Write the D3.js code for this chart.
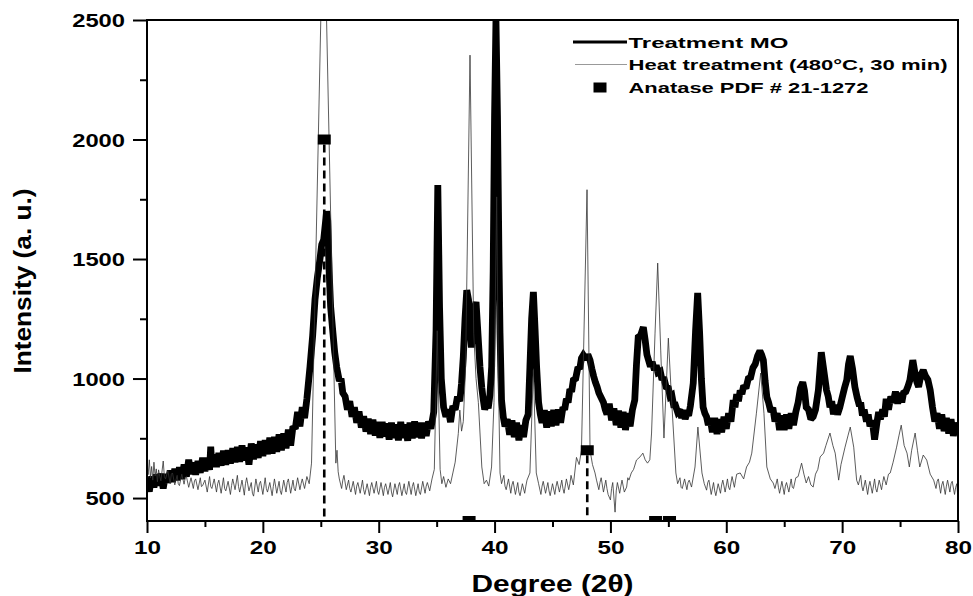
<!DOCTYPE html>
<html><head><meta charset="utf-8">
<script src="https://cdn.jsdelivr.net/npm/d3@7"></script>
<style>body{margin:0;background:#fff}svg{display:block}</style>
</head><body>
<svg id="c" width="973" height="596"></svg>
<script>
// ---- data ----
const xTicks = [10,20,30,40,50,60,70,80];
const xMinor = [15,25,35,45,55,65,75];
const yTicks = [500,1000,1500,2000,2500];
const yMinor = [750,1250,1750,2250];
const seriesNames = ["Treatment MO","Heat treatment (480°C, 30 min)","Anatase PDF # 21-1272"];

// Treatment MO  [2θ, intensity]
const treatmentMO = [
[10.0,560],[10.2,528],[10.4,590],[10.6,545],[10.8,598],[11.0,552],[11.2,602],[11.4,540],[11.6,600],[11.8,565],[12.0,615],[12.2,568],[12.4,622],[12.6,575],[12.8,628],[13.0,580],[13.2,640],[13.4,590],[13.6,660],[13.8,600],[14.0,648],[14.2,598],[14.4,655],[14.6,606],[14.8,668],[15.0,612],[15.2,668],[15.4,618],[15.5,715],[15.6,630],[15.8,682],[16.0,630],[16.2,688],[16.4,636],[16.6,698],[16.8,640],[17.0,700],[17.2,645],[17.4,708],[17.6,650],[17.8,714],[18.0,652],[18.2,720],[18.4,658],[18.6,712],[18.8,640],[19.0,728],[19.2,662],[19.4,724],[19.6,668],[19.8,738],[20.0,676],[20.2,742],[20.4,684],[20.6,752],[20.8,686],[21.0,756],[21.2,694],[21.4,766],[21.6,700],[21.8,770],[22.0,708],[22.2,786],[22.4,720],[22.6,800],[22.8,790],[23.0,860],[23.2,800],[23.4,880],[23.6,835],[23.8,915],[24.07,1050],[24.3,1180],[24.5,1330],[24.7,1420],[24.93,1500],[25.08,1560],[25.25,1580],[25.4,1650],[25.5,1700],[25.6,1660],[25.72,1450],[25.85,1300],[26.05,1190],[26.2,1110],[26.37,1048],[26.6,990],[26.75,1000],[26.9,940],[27.1,925],[27.3,870],[27.5,905],[27.7,840],[27.9,880],[28.1,815],[28.3,862],[28.5,795],[28.7,842],[28.9,778],[29.1,832],[29.3,768],[29.5,828],[29.7,762],[29.9,818],[30.1,752],[30.3,818],[30.5,758],[30.7,812],[30.9,745],[31.1,815],[31.3,752],[31.5,808],[31.7,742],[31.9,818],[32.1,752],[32.3,808],[32.5,740],[32.7,815],[32.9,750],[33.1,820],[33.3,755],[33.5,815],[33.7,750],[33.9,815],[34.1,760],[34.3,820],[34.5,790],[34.75,860],[34.95,1200],[35.1,1810],[35.25,1300],[35.4,1000],[35.6,880],[35.8,840],[36.0,870],[36.2,818],[36.4,885],[36.6,870],[36.8,925],[37.0,905],[37.15,980],[37.3,1090],[37.45,1250],[37.6,1370],[37.75,1330],[37.9,1200],[38.0,1130],[38.15,1220],[38.3,1300],[38.4,1320],[38.55,1200],[38.74,1048],[38.9,960],[39.03,910],[39.15,870],[39.3,900],[39.45,875],[39.6,930],[39.75,1050],[39.88,1450],[40.0,2100],[40.12,2500],[40.25,2100],[40.38,1500],[40.47,1190],[40.6,910],[40.75,840],[40.9,800],[41.1,830],[41.3,765],[41.5,825],[41.7,755],[41.9,815],[42.1,742],[42.3,805],[42.5,755],[42.7,825],[42.9,850],[43.05,1048],[43.2,1250],[43.35,1362],[43.5,1200],[43.63,1048],[43.8,900],[43.95,850],[44.1,815],[44.3,868],[44.5,795],[44.7,862],[44.9,800],[45.1,868],[45.3,805],[45.5,870],[45.7,815],[45.9,880],[46.05,870],[46.2,915],[46.35,900],[46.5,955],[46.65,945],[46.8,994],[47.0,1000],[47.2,1048],[47.35,1040],[47.5,1085],[47.66,1098],[47.9,1080],[48.05,1100],[48.24,1077],[48.4,1040],[48.55,1010],[48.7,985],[48.85,965],[49.0,940],[49.15,925],[49.4,900],[49.55,870],[49.7,850],[49.9,895],[50.1,825],[50.3,875],[50.5,805],[50.7,865],[50.9,795],[51.1,860],[51.3,785],[51.5,855],[51.7,800],[51.9,870],[52.1,910],[52.25,1060],[52.4,1173],[52.6,1180],[52.84,1215],[53.0,1160],[53.15,1100],[53.3,1075],[53.45,1050],[53.6,1070],[53.8,1035],[53.95,1055],[54.1,1025],[54.3,1030],[54.45,995],[54.6,1005],[54.8,965],[55.0,960],[55.15,925],[55.3,930],[55.45,890],[55.6,890],[55.8,860],[56.0,870],[56.15,835],[56.3,868],[56.45,830],[56.6,855],[56.75,845],[56.9,885],[57.15,981],[57.35,1200],[57.53,1358],[57.7,1190],[57.85,1000],[58.0,880],[58.15,855],[58.3,840],[58.45,805],[58.6,835],[58.8,775],[59.0,835],[59.2,768],[59.4,830],[59.6,775],[59.8,840],[60.0,790],[60.2,855],[60.4,820],[60.6,910],[60.75,880],[60.9,935],[61.05,905],[61.2,950],[61.35,935],[61.5,970],[61.7,960],[61.9,1000],[62.1,1005],[62.3,1045],[62.5,1060],[62.7,1095],[62.9,1115],[63.05,1100],[63.2,1077],[63.35,990],[63.5,922],[63.65,900],[63.8,870],[64.05,868],[64.2,820],[64.4,855],[64.6,785],[64.8,845],[65.0,785],[65.2,850],[65.4,790],[65.6,855],[65.8,805],[66.0,860],[66.2,900],[66.4,960],[66.6,985],[66.75,950],[66.9,880],[67.1,870],[67.3,830],[67.5,840],[67.7,870],[67.95,952],[68.2,1110],[68.4,1040],[68.65,952],[68.8,925],[68.95,880],[69.1,905],[69.25,850],[69.4,890],[69.6,850],[69.8,880],[70.0,920],[70.2,960],[70.4,994],[70.55,1060],[70.7,1094],[70.9,1040],[71.1,965],[71.3,920],[71.5,885],[71.6,900],[71.75,845],[71.9,870],[72.1,820],[72.25,850],[72.4,800],[72.6,825],[72.8,745],[73.0,815],[73.15,860],[73.3,830],[73.5,870],[73.65,840],[73.8,915],[74.0,870],[74.2,925],[74.4,900],[74.6,945],[74.8,895],[75.0,940],[75.15,900],[75.3,940],[75.5,945],[75.7,970],[75.85,994],[76.1,1077],[76.3,1020],[76.45,985],[76.6,965],[76.8,1015],[77.0,1035],[77.2,1010],[77.4,995],[77.6,952],[77.8,880],[78.0,820],[78.2,855],[78.4,790],[78.6,850],[78.8,780],[79.0,835],[79.2,770],[79.4,830],[79.6,760],[79.8,815],[80.0,772]
];

// Heat treatment (480 °C, 30 min)  [2θ, intensity]
const heatTreatment = [
[10.0,640],[10.1,598],[10.2,660],[10.3,585],[10.4,632],[10.5,575],[10.6,650],[10.7,592],[10.8,622],[10.9,568],[11.0,618],[11.1,590],[11.2,572],[11.4,655],[11.5,590],[11.6,580],[11.8,615],[12.0,560],[12.1,600],[12.2,605],[12.4,555],[12.6,595],[12.7,560],[12.8,552],[13.0,600],[13.2,558],[13.3,585],[13.4,590],[13.6,545],[13.8,585],[14.0,540],[14.1,572],[14.2,580],[14.4,535],[14.6,585],[14.7,548],[14.8,552],[15.0,575],[15.2,525],[15.4,590],[15.5,548],[15.6,540],[15.8,580],[16.0,525],[16.1,560],[16.2,575],[16.4,520],[16.6,585],[16.7,540],[16.8,530],[17.0,570],[17.2,515],[17.3,552],[17.4,580],[17.6,535],[17.8,595],[17.9,548],[18.0,525],[18.2,575],[18.4,512],[18.5,560],[18.6,585],[18.8,530],[19.0,565],[19.1,520],[19.2,508],[19.4,580],[19.6,525],[19.7,560],[19.8,570],[20.0,515],[20.2,585],[20.3,540],[20.4,525],[20.6,565],[20.8,510],[20.9,548],[21.0,580],[21.2,520],[21.4,570],[21.5,530],[21.6,515],[21.8,575],[22.0,525],[22.1,565],[22.2,580],[22.4,520],[22.6,575],[22.7,540],[22.8,530],[23.0,585],[23.2,535],[23.3,560],[23.4,580],[23.6,540],[23.8,590],[24.0,560],[24.2,646],[25.25,3080],[26.3,646],[26.4,700],[26.5,610],[26.6,580],[26.8,540],[26.9,575],[27.0,595],[27.2,535],[27.4,575],[27.5,540],[27.6,525],[27.8,570],[28.0,515],[28.1,550],[28.2,565],[28.4,520],[28.6,575],[28.7,535],[28.8,515],[29.0,560],[29.2,510],[29.3,545],[29.4,565],[29.6,520],[29.8,570],[29.9,530],[30.0,515],[30.2,565],[30.4,510],[30.5,545],[30.6,560],[30.8,515],[31.0,565],[31.1,525],[31.2,505],[31.4,560],[31.6,515],[31.7,550],[31.8,565],[32.0,510],[32.2,560],[32.3,525],[32.4,515],[32.6,570],[32.8,515],[32.9,548],[33.0,565],[33.2,510],[33.4,560],[33.5,525],[33.6,515],[33.8,570],[34.0,520],[34.1,550],[34.2,565],[34.4,530],[34.6,580],[34.8,620],[35.05,1200],[35.3,620],[35.45,560],[35.6,590],[35.8,545],[36.0,580],[36.2,560],[36.4,605],[36.6,650],[36.87,770],[37.0,868],[37.15,780],[37.3,820],[37.5,1050],[37.88,2353],[38.2,1190],[38.4,1000],[38.6,900],[38.9,630],[39.1,560],[39.3,575],[39.5,550],[39.74,630],[39.95,900],[40.18,1760],[40.33,1006],[40.47,605],[40.6,560],[40.8,595],[40.9,550],[41.0,535],[41.2,580],[41.4,520],[41.5,555],[41.6,570],[41.8,515],[42.0,565],[42.1,525],[42.2,510],[42.4,560],[42.6,520],[42.7,550],[42.8,575],[43.05,605],[43.35,1035],[43.6,605],[43.8,560],[44.0,515],[44.1,550],[44.2,570],[44.4,520],[44.6,565],[44.7,530],[44.8,510],[45.0,560],[45.2,515],[45.3,548],[45.4,570],[45.6,525],[45.8,575],[45.9,540],[46.0,520],[46.2,580],[46.4,535],[46.5,560],[46.6,595],[46.8,555],[47.07,670],[47.3,640],[47.5,700],[47.98,1790],[48.24,700],[48.45,640],[48.67,605],[48.8,575],[49.0,535],[49.1,565],[49.2,585],[49.4,525],[49.6,575],[49.7,540],[49.8,515],[50.0,492],[50.1,540],[50.2,565],[50.4,441],[50.5,530],[50.6,565],[50.8,520],[50.9,550],[51.0,575],[51.2,525],[51.4,546],[51.5,585],[51.6,575],[51.8,605],[52.0,620],[52.25,659],[52.55,672],[52.8,688],[53.0,660],[53.2,646],[53.4,660],[53.55,772],[53.85,1190],[54.08,1483],[54.34,1119],[54.62,751],[55.0,1169],[55.28,910],[55.65,605],[55.8,560],[56.0,585],[56.1,545],[56.2,540],[56.4,580],[56.6,535],[56.7,565],[56.8,575],[57.0,546],[57.3,630],[57.55,797],[57.9,605],[58.1,560],[58.3,533],[58.4,565],[58.5,575],[58.7,515],[58.9,565],[59.0,530],[59.1,510],[59.3,560],[59.5,520],[59.6,555],[59.7,575],[59.9,525],[60.1,580],[60.2,545],[60.3,535],[60.5,590],[60.7,545],[60.8,575],[60.9,600],[61.2,605],[61.5,580],[61.75,630],[62.0,650],[62.2,688],[62.6,855],[62.97,1023],[63.25,855],[63.5,630],[63.8,580],[64.05,563],[64.2,540],[64.4,580],[64.5,545],[64.6,520],[64.8,570],[65.0,515],[65.1,550],[65.2,565],[65.4,525],[65.6,580],[65.7,545],[65.8,540],[66.0,585],[66.2,590],[66.5,646],[66.7,600],[66.9,563],[67.1,590],[67.3,555],[67.5,546],[67.7,600],[67.9,620],[68.1,672],[68.4,688],[68.6,720],[68.95,772],[69.2,720],[69.4,688],[69.7,575],[69.9,640],[70.25,713],[70.5,760],[70.7,797],[71.0,713],[71.25,575],[71.4,555],[71.6,595],[71.7,550],[71.8,530],[72.0,575],[72.2,515],[72.3,550],[72.4,570],[72.6,520],[72.8,580],[72.9,540],[73.0,525],[73.2,575],[73.4,535],[73.5,565],[73.6,590],[73.8,555],[74.0,600],[74.15,605],[74.4,650],[74.7,713],[74.9,760],[75.1,805],[75.35,720],[75.6,688],[75.8,630],[76.0,700],[76.3,772],[76.5,700],[76.7,630],[77.0,680],[77.3,659],[77.6,600],[77.9,575],[78.1,540],[78.2,570],[78.3,580],[78.5,520],[78.6,555],[78.7,570],[78.9,515],[79.0,550],[79.1,575],[79.3,525],[79.4,560],[79.5,570],[79.7,515],[79.8,545],[79.9,560],[80.0,492]
];

// Anatase reference peaks (PDF # 21-1272)
const anatasePos = [25.3, 37.8, 48.0, 53.9, 55.1];
const anataseVal = [2000, 404, 700, 404, 404];
const anataseDashed = [true, false, true, false, false];

// ---- drawing ----
const svg = d3.select("#c");
const L = 147, R = 958, T = 20, B = 521;
const x = d3.scaleLinear().domain([10,80]).range([L,R]);
const y = d3.scaleLinear().domain([404,2500]).range([B,T]);
const FONT = "Arial, 'Liberation Sans', Helvetica, sans-serif";

svg.append("defs").append("clipPath").attr("id","clip")
  .append("rect").attr("x",L).attr("y",T).attr("width",R-L).attr("height",B-T);

const plot = svg.append("g").attr("clip-path","url(#clip)");
const line = d3.line().x(d=>x(d[0])).y(d=>y(d[1]));

plot.append("path").datum(treatmentMO).attr("d",line)
  .attr("fill","none").attr("stroke","#000").attr("stroke-width",6.8)
  .attr("stroke-linejoin","miter").attr("stroke-miterlimit",2).attr("stroke-linecap","butt");
plot.append("path").datum(heatTreatment).attr("d",line)
  .attr("fill","none").attr("stroke","#333").attr("stroke-width",0.8)
  .attr("stroke-linejoin","round");

// anatase markers
const an = anatasePos.map((p,i)=>({p, v:anataseVal[i], dash:anataseDashed[i]}));
plot.selectAll("line.dash").data(an.filter(d=>d.dash)).join("line")
  .attr("x1",d=>x(d.p)).attr("x2",d=>x(d.p))
  .attr("y1",d=>y(d.v)+5).attr("y2",B)
  .attr("stroke","#000").attr("stroke-width",2.6).attr("stroke-dasharray","8,5");
plot.selectAll("rect.mk").data(an).join("rect")
  .attr("x",d=>x(d.p)-6.5).attr("y",d=>y(d.v)-5)
  .attr("width",13).attr("height",10).attr("fill","#000");

// frame
svg.append("rect").attr("x",L).attr("y",T).attr("width",R-L).attr("height",B-T)
  .attr("fill","none").attr("stroke","#000").attr("stroke-width",2);

// axes
function styleAxis(g){
  g.select(".domain").remove();
  g.selectAll(".tick line").attr("stroke","#000").attr("stroke-width",2);
}
const gx = svg.append("g").attr("transform",`translate(0,${B})`)
  .call(d3.axisBottom(x).tickValues(xTicks).tickSize(12).tickPadding(8).tickFormat(d3.format("d")));
styleAxis(gx);
gx.selectAll("text").attr("font-family",FONT).attr("font-weight","bold").attr("font-size",18.5)
  .attr("fill","#000").attr("textLength",d=>String(d).length*13.5).attr("lengthAdjust","spacingAndGlyphs");
const gxm = svg.append("g").attr("transform",`translate(0,${B})`)
  .call(d3.axisBottom(x).tickValues(xMinor).tickSize(6).tickFormat(""));
styleAxis(gxm);

const gy = svg.append("g").attr("transform",`translate(${L},0)`)
  .call(d3.axisLeft(y).tickValues(yTicks).tickSize(14).tickPadding(8).tickFormat(d3.format("d")));
styleAxis(gy);
gy.selectAll("text").attr("font-family",FONT).attr("font-weight","bold").attr("font-size",18.5)
  .attr("fill","#000").attr("dy","0.36em")
  .attr("textLength",d=>String(d).length*13.2).attr("lengthAdjust","spacingAndGlyphs");
const gym = svg.append("g").attr("transform",`translate(${L},0)`)
  .call(d3.axisLeft(y).tickValues(yMinor).tickSize(7).tickFormat(""));
styleAxis(gym);

// axis titles
svg.append("text").attr("transform","translate(31,281) rotate(-90)")
  .attr("text-anchor","middle").attr("font-family",FONT).attr("font-weight","bold")
  .attr("font-size",23).attr("textLength",185).attr("lengthAdjust","spacingAndGlyphs")
  .text("Intensity (a. u.)");
svg.append("text").attr("x",(L+R)/2).attr("y",592)
  .attr("text-anchor","middle").attr("font-family",FONT).attr("font-weight","bold")
  .attr("font-size",24).attr("textLength",162).attr("lengthAdjust","spacingAndGlyphs")
  .text("Degree (2θ)");

// legend
const lg = svg.append("g");
const lgY = [42, 64.5, 87.5];
const lgLen = [160, 319, 240];
lg.append("line").attr("x1",573).attr("x2",627).attr("y1",lgY[0]).attr("y2",lgY[0])
  .attr("stroke","#000").attr("stroke-width",3);
lg.append("line").attr("x1",575).attr("x2",627).attr("y1",lgY[1]).attr("y2",lgY[1])
  .attr("stroke","#999").attr("stroke-width",1);
lg.append("rect").attr("x",593.5).attr("y",lgY[2]-5).attr("width",13).attr("height",10).attr("fill","#000");
seriesNames.forEach((t,i)=>{
  lg.append("text").attr("x",628.5).attr("y",lgY[i]+5.5)
    .attr("font-family",FONT).attr("font-weight","bold").attr("font-size",15)
    .attr("textLength",lgLen[i]).attr("lengthAdjust","spacingAndGlyphs").text(t);
});
</script>
</body></html>
